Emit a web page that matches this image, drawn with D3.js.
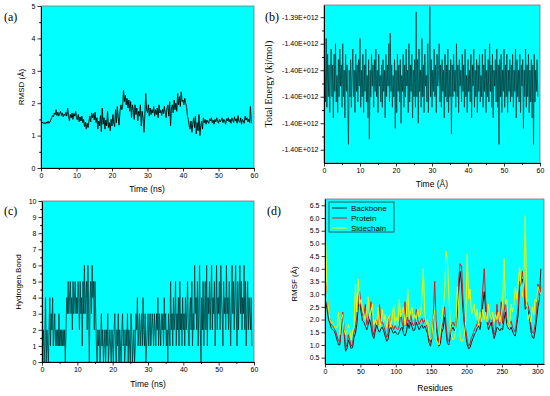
<!DOCTYPE html>
<html>
<head>
<meta charset="utf-8">
<script src="https://cdn.jsdelivr.net/npm/d3@7"></script>
<style>
  body { margin: 0; background: #fff; }
  svg { display: block; }
</style>
</head>
<body>
<svg width="550" height="396"></svg>
<script>
// (a) RMSD, one value every 0.25 ns
const rmsdStep = 0.25;
const rmsd = [
  1.40,1.38,1.42,1.36, 1.40,1.35,1.42,1.38, 1.45,1.38,1.42,1.48, 1.55,1.62,1.58,1.70,
  1.65,1.80,1.62,1.72, 1.60,1.68,1.75,1.62, 1.70,1.58,1.66,1.62, 1.72,1.60,1.85,1.62,
  1.45,1.65,1.55,1.70, 1.50,1.68,1.60,1.75, 1.55,1.48,1.65,1.42, 1.58,1.45,1.60,1.40,
  1.50,1.28,1.42,1.20, 1.38,1.25,1.45,1.60, 1.42,1.70,1.55,1.68, 1.48,1.72,1.40,1.55,
  1.20,1.45,1.30,1.62, 1.12,1.85,1.35,1.55, 1.20,1.48,1.30,1.75, 1.25,1.40,1.15,1.50,
  1.30,1.65,1.38,1.28, 1.80,1.40,1.90,1.55, 1.32,1.75,1.95,1.80, 1.90,2.40,2.05,2.25,
  1.95,2.15,1.85,2.10, 1.75,2.05,1.55,1.95, 1.80,1.50,1.95,1.65, 1.85,1.45,1.75,1.60,
  1.95,1.30,1.75,1.55, 1.10,1.60,2.30,1.80, 1.70,1.95,1.60,1.85, 1.65,1.80,1.70,1.90,
  1.60,1.80,1.65,1.85, 1.55,1.95,1.70,1.78, 1.62,1.82,1.68,1.90, 1.70,1.55,1.85,1.95,
  1.60,2.05,1.30,1.85, 1.95,1.70,2.10,1.80, 2.00,1.75,2.30,1.95, 2.20,1.90,2.35,2.05,
  2.10,1.95,2.15,2.00, 1.90,1.60,1.50,1.30, 1.20,1.45,1.10,1.35, 1.55,1.25,1.60,1.05,
  1.40,1.15,1.65,1.00, 1.30,1.45,1.20,1.55, 1.40,1.50,1.35,1.48, 1.42,1.38,1.52,1.45,
  1.55,1.40,1.48,1.35, 1.50,1.42,1.55,1.45, 1.38,1.50,1.42,1.48, 1.55,1.40,1.50,1.45,
  1.35,1.52,1.45,1.55, 1.42,1.50,1.38,1.55, 1.48,1.40,1.58,1.45, 1.52,1.38,1.62,1.45,
  1.40,1.55,1.35,1.50, 1.45,1.38,1.60,1.48, 1.55,1.42,1.50,1.40, 1.90,1.38
];

// (b) total energy in 1e9 kJ/mol, one value every 0.2 ns
const energyStep = 0.2;
const energy = [
  -1395.7,-1395.3,-1396.1,-1394.9,-1396.2,-1395.2,-1396.0,-1395.4,-1396.3,-1395.5,
  -1395.1,-1396.0,-1395.4,-1396.4,-1395.2,-1395.9,-1395.0,-1396.1,-1395.6,-1396.3,
  -1395.3,-1396.0,-1395.1,-1395.8,-1395.4,-1396.2,-1395.0,-1396.0,-1395.5,-1396.4,
  -1395.2,-1395.9,-1395.4,-1396.1,-1396.9,-1395.5,-1396.0,-1395.3,-1396.2,-1395.6,
  -1395.1,-1396.0,-1395.5,-1396.3,-1395.2,-1395.9,-1395.4,-1396.1,-1395.3,-1395.8,
  -1394.9,-1396.2,-1395.5,-1396.0,-1395.2,-1396.3,-1395.4,-1395.9,-1395.1,-1396.1,
  -1395.6,-1396.4,-1395.3,-1396.8,-1395.5,-1396.0,-1395.2,-1395.8,-1395.4,-1396.2,
  -1395.3,-1395.9,-1395.1,-1396.0,-1395.5,-1396.3,-1395.2,-1395.8,-1395.6,-1396.1,
  -1395.4,-1396.2,-1395.3,-1395.9,-1395.5,-1396.4,-1395.2,-1396.0,-1395.4,-1395.8,
  -1395.0,-1396.1,-1394.8,-1395.9,-1395.4,-1396.2,-1395.6,-1396.0,-1395.3,-1396.6,
  -1395.5,-1396.3,-1395.2,-1395.9,-1395.4,-1396.1,-1395.3,-1396.5,-1395.6,-1395.9,
  -1395.2,-1396.2,-1395.4,-1396.0,-1395.1,-1395.8,-1395.5,-1396.3,-1395.0,-1396.1,
  -1395.4,-1395.9,-1395.2,-1396.4,-1395.5,-1396.0,-1395.3,-1396.2,-1394.4,-1396.0,
  -1395.3,-1396.5,-1395.1,-1395.9,-1395.5,-1396.2,-1394.9,-1396.0,-1395.4,-1396.3,
  -1395.2,-1395.8,-1395.6,-1396.1,-1395.0,-1396.3,-1395.4,-1394.3,-1396.0,-1395.3,
  -1396.2,-1395.5,-1395.9,-1395.1,-1396.0,-1395.4,-1396.3,-1395.2,-1395.8,-1395.6,
  -1395.0,-1396.1,-1395.4,-1396.2,-1395.3,-1395.9,-1395.5,-1396.4,-1395.2,-1396.0,
  -1395.4,-1396.1,-1395.1,-1396.3,-1395.5,-1396.0,-1395.3,-1396.7,-1395.4,-1396.0,
  -1395.2,-1395.9,-1395.5,-1396.2,-1395.0,-1396.0,-1395.4,-1396.3,-1395.3,-1395.8,
  -1395.5,-1396.1,-1395.2,-1395.9,-1395.4,-1396.2,-1395.1,-1396.0,-1395.6,-1396.3,
  -1395.3,-1395.9,-1395.5,-1396.1,-1395.2,-1396.4,-1395.4,-1395.8,-1395.1,-1396.2,
  -1395.5,-1396.0,-1395.3,-1396.3,-1395.4,-1395.9,-1395.2,-1396.1,-1395.6,-1396.0,
  -1395.2,-1396.2,-1395.4,-1395.9,-1395.1,-1396.3,-1395.5,-1396.0,-1395.3,-1396.1,
  -1395.0,-1395.9,-1395.4,-1396.2,-1395.2,-1396.4,-1395.5,-1395.8,-1395.3,-1396.1,
  -1395.1,-1396.2,-1395.4,-1396.9,-1395.3,-1396.0,-1395.2,-1396.3,-1395.5,-1395.9,
  -1395.1,-1396.2,-1395.4,-1396.0,-1395.2,-1396.3,-1395.5,-1395.9,-1395.3,-1396.1,
  -1395.4,-1396.0,-1395.2,-1396.2,-1395.5,-1395.9,-1395.1,-1396.4,-1395.3,-1396.0,
  -1395.5,-1396.1,-1395.2,-1396.3,-1395.4,-1395.8,-1395.3,-1396.6,-1395.5,-1396.0,
  -1395.1,-1396.2,-1395.4,-1396.0,-1395.2,-1396.3,-1395.5,-1396.1,-1395.3,-1396.4,
  -1395.4,-1396.9,-1395.2,-1396.1,-1395.5,-1395.9,-1395.3,-1396.0
];
const energyTicks = [-1394.5, -1395.0, -1395.5, -1396.0, -1396.5, -1397.0];
const energyTickLabels = ["-1.39E+012", "-1.40E+012", "-1.40E+012", "-1.40E+012", "-1.40E+012", "-1.40E+012"];

// (c) hydrogen bonds, one value every 0.2 ns
const hbondStep = 0.2;
const hbond = [
  2,1,2,0,1,4,0,2,1,0, 2,4,1,3,2,4,1,2,3,1, 2,1,2,1,3,1,2,1,2,1, 2,1,2,0,2,4,3,5,3,4,
  5,3,4,2,5,3,4,5,3,4, 3,5,4,2,5,3,4,1,5,3, 6,3,4,5,2,6,3,0,4,5, 3,6,4,5,2,5,3,1,0,2,
  1,2,0,1,3,1,2,0,1,2, 0,2,1,3,0,1,2,1,0,2, 1,0,2,3,1,0,2,1,3,0, 2,1,0,2,3,1,2,0,1,2,
  1,3,0,2,1,0,3,2,0,1, 2,0,1,3,2,4,1,2,3,1, 2,3,1,4,2,1,3,0,1,2, 3,1,2,3,1,2,3,2,1,3,
  2,1,3,2,4,1,3,2,1,3, 2,3,1,4,2,3,1,2,0,3, 2,1,5,2,3,1,4,2,3,5, 1,3,2,4,1,5,2,3,1,4,
  2,3,1,4,2,3,5,2,1,3, 4,2,5,1,3,2,6,3,4,2, 5,1,3,6,2,0,4,2,5,1, 3,5,2,6,1,4,3,5,2,4,
  6,2,4,3,5,1,3,6,2,4, 3,5,2,6,4,3,1,5,3,4, 2,6,3,4,2,5,3,1,4,6, 3,5,2,4,6,3,1,5,2,4,
  6,3,5,2,4,3,6,2,5,1, 3,5,2,4,3,2,4,1
];

// (d) RMSF per residue, residues 1,3,5,...,305
const rmsfStart = 1, rmsfStep = 2;
const seriesNames = ["Backbone", "Protein", "Sidechain"];
const seriesColors = ["#1a1a1a", "#e8141e", "#f5f500"];
const backbone = [
  2.70,2.40,2.00,1.85,1.65, 1.60,1.55,1.40,1.20,1.00, 1.00,1.70,2.20,1.50,0.75,
  0.85,1.20,1.05,0.85,0.90, 1.30,1.45,1.80,2.50,2.80, 2.30,1.95,1.90,1.75,1.60,
  1.80,2.00,1.75,1.40,1.25, 1.55,1.80,1.60,1.50,1.65, 1.70,1.55,1.35,1.15,1.20,
  1.60,1.70,1.55,1.45,1.55, 1.45,1.40,1.50,1.65,1.70, 1.45,1.35,1.50,1.85,1.65,
  1.90,1.70,1.55,1.60,1.90, 1.75,1.60,1.70,1.80,1.65, 1.75,1.60,1.45,1.10,0.95,
  1.25,1.80,2.40,1.70,1.30, 0.95,1.05,1.50,1.65,2.10, 1.60,1.05,1.00,1.30,1.60,
  1.70,1.55,1.70,2.20,3.20, 3.90,3.40,2.40,1.80,1.40, 1.00,0.85,0.90,1.10,1.25,
  1.40,1.50,1.65,1.75,1.60, 2.00,2.60,3.10,2.40,1.90, 1.60,1.75,1.90,1.55,1.25,
  1.45,1.70,1.65,1.55,1.65, 1.60,2.00,2.30,1.80,1.65, 1.60,1.70,1.55,1.40,1.35,
  1.80,2.20,3.30,3.40,3.60, 3.30,2.40,2.50,2.35,2.10, 1.55,1.30,1.25,1.55,2.00,
  2.50,2.80,4.00
];
const protein = [
  3.50,3.10,2.30,2.00,1.80, 1.75,1.65,1.55,1.35,1.15, 1.10,1.80,2.30,1.70,0.90,
  1.00,1.40,1.20,0.95,1.05, 1.50,1.70,2.10,2.80,3.10, 2.50,2.15,2.20,2.60,1.80,
  2.00,2.30,2.70,1.60,1.40, 1.75,2.00,1.80,2.60,1.85, 1.90,1.75,1.55,1.30,1.45,
  2.20,1.90,1.75,1.60,1.75, 1.65,1.60,1.75,2.30,1.90, 1.65,2.70,1.75,2.10,1.85,
  2.20,1.90,1.75,1.85,2.40, 2.00,1.80,1.95,2.05,1.85, 2.00,1.80,1.65,1.25,1.10,
  1.45,2.10,3.50,1.95,1.45, 1.10,1.20,1.70,1.90,2.50, 1.85,1.20,1.15,1.50,1.80,
  1.90,1.75,1.95,2.50,3.60, 4.20,4.10,2.80,2.00,1.60, 1.15,0.95,1.05,1.30,1.40,
  1.60,1.70,1.85,2.00,1.85, 2.40,3.20,4.00,2.80,2.10, 1.80,2.00,2.15,1.80,1.40,
  1.60,2.60,1.90,1.75,2.70, 1.85,2.30,2.70,2.05,1.85, 1.80,1.95,1.70,1.60,1.50,
  2.00,2.50,3.50,3.40,3.90, 3.50,2.60,2.70,2.55,2.30, 1.75,1.50,1.45,1.80,2.30,
  3.40,2.90,3.30
];
const sidechain = [
  5.10,3.10,2.40,2.00,1.85, 1.90,1.75,1.65,1.70,2.30, 1.40,2.00,2.20,1.60,1.40,
  1.50,1.80,1.60,1.20,1.55, 1.70,3.40,2.30,3.60,2.60, 2.80,2.40,2.20,2.00,2.30,
  2.90,2.10,2.30,2.60,1.80, 2.00,1.80,2.50,1.60,1.90, 2.40,1.90,2.20,1.70,2.00,
  2.20,1.70,2.10,2.60,1.80, 2.10,1.80,2.80,2.10,2.30, 2.50,1.80,2.20,3.20,2.00,
  2.30,2.50,2.00,2.20,2.00, 2.40,2.10,2.20,2.90,4.00, 2.20,1.80,2.00,1.40,1.20,
  1.30,2.00,2.40,1.20,1.10, 1.00,1.50,2.00,2.50,3.00, 4.70,4.40,3.00,1.90,1.30,
  1.20,1.30,1.70,3.30,2.50, 1.30,1.10,1.20,1.40,2.00, 4.60,2.80,3.20,2.20,2.40,
  2.60,2.00,2.40,1.80,2.30, 1.90,2.40,2.00,2.30,1.90, 2.60,2.20,2.00,2.30,1.90,
  2.20,2.00,2.30,1.90,2.20, 2.60,4.40,2.60,2.80,1.70, 1.80,2.60,2.30,2.60,3.30,
  2.80,3.40,4.10,3.40,2.90, 3.50,6.10,2.70,2.00,2.20, 1.90,2.50,2.20,2.80,2.70,
  3.30,3.10,3.00
];

const svg = d3.select("svg");
const bg = "#00ffff";
const sans = "'Liberation Sans', Arial, sans-serif";
const serif = "'Liberation Serif', 'Times New Roman', serif";

// draws a framed plot area with Origin style ticks, returns the scales
function makePanel(box, xDom, yDom, xMajor, xMinor, yMajor, yMinor, yFmt) {
  const x = d3.scaleLinear().domain(xDom).range([box.left, box.right]);
  const y = d3.scaleLinear().domain(yDom).range([box.bottom, box.top]);

  svg.append("rect")
    .attr("x", box.left).attr("y", box.top)
    .attr("width", box.right - box.left).attr("height", box.bottom - box.top)
    .attr("fill", bg).attr("stroke", "#777").attr("stroke-width", 0.8);

  const g = svg.append("g");
  const clip = "clip" + Math.round(box.left) + "_" + Math.round(box.top);
  svg.append("clipPath").attr("id", clip).append("rect")
    .attr("x", box.left).attr("y", box.top)
    .attr("width", box.right - box.left).attr("height", box.bottom - box.top);
  g.attr("clip-path", `url(#${clip})`);

  // minor ticks
  svg.append("g").attr("transform", `translate(0,${box.bottom})`)
    .call(d3.axisBottom(x).tickValues(xMinor).tickSize(1.8).tickFormat("").tickSizeOuter(0))
    .call(a => a.select(".domain").remove());
  svg.append("g").attr("transform", `translate(${box.left},0)`)
    .call(d3.axisLeft(y).tickValues(yMinor).tickSize(1.8).tickFormat("").tickSizeOuter(0))
    .call(a => a.select(".domain").remove());

  const xa = svg.append("g").attr("transform", `translate(0,${box.bottom})`)
    .call(d3.axisBottom(x).tickValues(xMajor).tickSize(3.5).tickPadding(2).tickSizeOuter(0));
  const ya = svg.append("g").attr("transform", `translate(${box.left},0)`)
    .call(d3.axisLeft(y).tickValues(yMajor).tickSize(3.5).tickPadding(2).tickSizeOuter(0).tickFormat(yFmt));
  [xa, ya].forEach(a => {
    a.attr("font-family", sans).attr("font-size", 7);
    a.selectAll("line").attr("stroke-width", 0.8);
    a.select(".domain").attr("stroke-width", 1);
  });
  return { x, y, g };
}

function label(text, x, y, size, family, rotate) {
  const t = svg.append("text")
    .attr("font-family", family).attr("font-size", size)
    .attr("text-anchor", rotate ? "middle" : "start")
    .text(text);
  if (rotate) t.attr("transform", `translate(${x},${y}) rotate(-90)`);
  else t.attr("x", x).attr("y", y);
  return t;
}
function xTitle(text, x, y) {
  svg.append("text").attr("x", x).attr("y", y)
    .attr("font-family", sans).attr("font-size", 8.5)
    .attr("text-anchor", "middle").text(text);
}

const range = (a, b, s) => d3.range(a, b + s / 2, s);

// ---- (a) RMSD ----
{
  const p = makePanel({ left: 41, right: 254, top: 6, bottom: 168 },
    [0, 60], [0, 5], range(0, 60, 10), range(5, 55, 10), range(0, 5, 1), range(0.5, 4.5, 1), d3.format("d"));
  p.g.append("path").datum(rmsd)
    .attr("fill", "none").attr("stroke", "#000").attr("stroke-width", 0.9)
    .attr("d", d3.line().x((d, i) => p.x(i * rmsdStep)).y(d => p.y(d)));
  label("(a)", 4, 21, 12, serif);
  label("RMSD (Å)", 24, 87, 8, sans, true);
  xTitle("Time (ns)", 147, 192);
}

// ---- (b) Total energy ----
{
  const p = makePanel({ left: 324, right: 540, top: 5, bottom: 163 },
    [0, 60], [-1397.25, -1394.27], range(0, 60, 10), range(5, 55, 10),
    energyTicks, [-1394.75, -1395.25, -1395.75, -1396.25, -1396.75],
    (d, i) => energyTickLabels[i]);
  p.g.append("path").datum(energy)
    .attr("fill", "none").attr("stroke", "#022a2a").attr("stroke-width", 0.7)
    .attr("d", d3.line().x((d, i) => p.x(i * energyStep)).y(d => p.y(d)));
  label("(b)", 265, 21, 12, serif);
  label("Total Energy (kj/mol)", 272, 84, 10, serif, true);
  xTitle("Time (Å)", 432, 187);
}

// ---- (c) Hydrogen bonds ----
{
  const p = makePanel({ left: 42, right: 254, top: 201, bottom: 362 },
    [0, 60], [0, 10], range(0, 60, 10), range(5, 55, 10), range(0, 10, 1), range(0.5, 9.5, 1), d3.format("d"));
  p.g.append("path").datum(hbond)
    .attr("fill", "none").attr("stroke", "#022a2a").attr("stroke-width", 0.75)
    .attr("d", d3.line().x((d, i) => p.x(i * hbondStep)).y(d => p.y(d)));
  label("(c)", 4, 215, 12, serif);
  label("Hydrogen Bond", 21, 282, 8, sans, true);
  xTitle("Time (ns)", 148, 387);
}

// ---- (d) RMSF ----
{
  const p = makePanel({ left: 325, right: 544, top: 199, bottom: 364 },
    [0, 309.5], [0.25, 6.75], range(0, 300, 50), range(25, 275, 50), range(0.5, 6.5, 0.5), [], d3.format(".1f"));
  const line = d3.line().x((d, i) => p.x(rmsfStart + i * rmsfStep)).y(d => p.y(d));
  [backbone, protein, sidechain].forEach((s, k) => {
    p.g.append("path").datum(s)
      .attr("fill", "none").attr("stroke", seriesColors[k]).attr("stroke-width", 1)
      .attr("d", line);
  });
  const lg = svg.append("g");
  lg.append("rect").attr("x", 329).attr("y", 202).attr("width", 65).attr("height", 30)
    .attr("fill", bg).attr("stroke", "#333").attr("stroke-width", 0.8);
  seriesNames.forEach((n, k) => {
    const yy = 208 + k * 10;
    lg.append("line").attr("x1", 332).attr("x2", 347).attr("y1", yy).attr("y2", yy)
      .attr("stroke", seriesColors[k]).attr("stroke-width", 1);
    lg.append("text").attr("x", 351).attr("y", yy + 3)
      .attr("font-family", sans).attr("font-size", 8).text(n);
  });
  label("(d)", 267, 215, 12, serif);
  label("RMSF (Å)", 297, 284, 8, sans, true);
  xTitle("Residues", 435, 391);
}
</script>
</body>
</html>
